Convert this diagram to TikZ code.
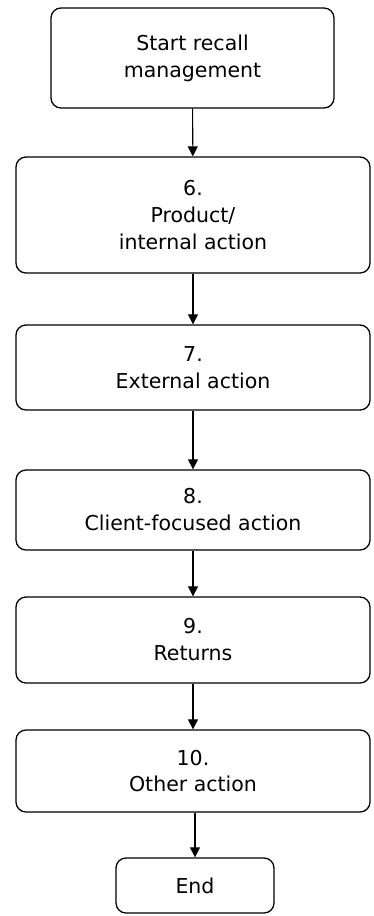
\documentclass[tikz,border=0pt]{standalone}
\usepackage{fontspec}
\setmainfont{DejaVu Sans}
\usepackage{tikz}
\usetikzlibrary{arrows.meta}
\usetikzlibrary{positioning}
\tikzset{
    stage/.style={
        draw,
        rectangle,
        rounded corners=0.3cm,
        line width=1.1pt,
        fill=white,
        align=center,
        inner sep=2pt,
        font=\fontsize{17.5}{23}\selectfont
    },
    flow/.style={
        draw,
        -{Triangle[length=0.3cm, width=0.3cm]},
        line width=0.9pt
    }
}

\begin{document}
\begin{tikzpicture}[x=0.03cm, y=-0.03cm]
    \useasboundingbox (0,0) rectangle (374,916);
    % Stages
    \node[stage, minimum width=8.49cm, minimum height=3.0cm] (start) at (192.5,58) {Start recall\\management};
    \node[stage, minimum width=10.62cm, minimum height=3.48cm] (s6) at (193,215) {6.\\Product/\\internal action};
    \node[stage, minimum width=10.62cm, minimum height=2.55cm] (s7) at (193,367.5) {7.\\External action};
    \node[stage, minimum width=10.62cm, minimum height=2.4cm] (s8) at (193,510) {8.\\Client-focused action};
    \node[stage, minimum width=10.62cm, minimum height=2.58cm] (s9) at (193,640) {9.\\Returns};
    \node[stage, minimum width=10.62cm, minimum height=2.46cm] (s10) at (193,771) {10.\\Other action};
    \node[stage, minimum width=4.74cm, minimum height=1.65cm] (end) at (195,885.5) {End};

    % Arrows
    \draw[flow] (start) -- (s6);
    \draw[flow] (s6) -- (s7);
    \draw[flow] (s7) -- (s8);
    \draw[flow] (s8) -- (s9);
    \draw[flow] (s9) -- (s10);
    \draw[flow] (s10.south -| end.north) -- (end);
\end{tikzpicture}
\end{document}
